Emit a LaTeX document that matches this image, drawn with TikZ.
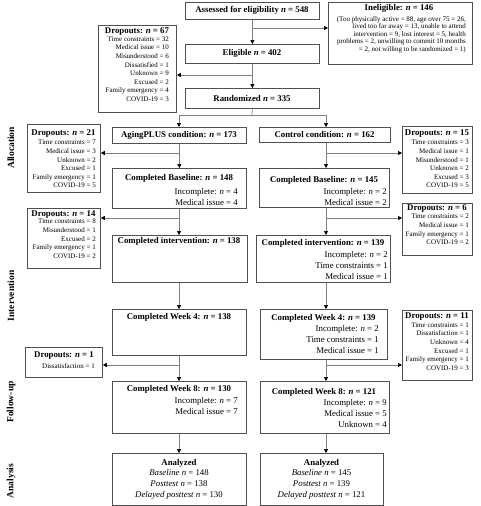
\documentclass[tikz,border=0pt]{standalone}
\usepackage{fontspec}
\setmainfont{Liberation Serif}
\usetikzlibrary{arrows.meta}
\definecolor{boxline}{HTML}{505050}
\definecolor{arrline}{HTML}{808080}
\newcommand{\flowbox}[5]{\node[bx, minimum width={(#4)-(#2)}, minimum height={(#5)-(#3)}] (#1) at (#2,#3) {};}
\begin{document}
\begin{tikzpicture}[x=1pt,y=-1pt,
  bx/.style={draw=boxline, line width=0.8pt, inner sep=0pt, anchor=north west},
  ttl/.style={font=\fontsize{8.8}{10}\selectfont\bfseries, inner sep=0pt},
  det/.style={font=\fontsize{8.8}{10.7}\selectfont, align=right, inner sep=0pt, anchor=north east},
  ana/.style={font=\fontsize{8.8}{10.7}\selectfont, align=center, inner sep=0pt, anchor=north},
  drp/.style={font=\fontsize{7}{8.6}\selectfont, align=right, inner sep=0pt, anchor=north east},
  inl/.style={font=\fontsize{7}{7.5}\selectfont, align=right, inner sep=0pt, anchor=north east},
  arr/.style={draw=arrline, line width=0.7pt, -{Triangle[width=4pt,length=4pt,color=black]}},
  ln/.style={draw=arrline, line width=0.7pt},
  side/.style={font=\fontsize{9.5}{10}\selectfont\bfseries, rotate=90, inner sep=0pt}
]
\fill[white] (0,0) rectangle (480,506);
\useasboundingbox (0,0) rectangle (480,506);

% ---------- boxes ----------
\flowbox{assess}{185}{2}{319}{19}
\flowbox{inelig}{328}{2}{472}{64}
\flowbox{drop67}{98}{25}{176}{112}
\flowbox{elig}{185}{44}{319}{63}
\flowbox{rand}{185}{88}{319}{108}
\flowbox{agcond}{112}{127}{246}{143}
\flowbox{ctcond}{259}{127}{390}{142}
\flowbox{drop21}{27}{124}{100}{192}
\flowbox{drop15}{402}{126}{472}{193}
\flowbox{agbase}{112}{168}{246}{208}
\flowbox{ctbase}{259}{168}{389}{207}
\flowbox{drop14}{27}{208}{100}{268}
\flowbox{drop6}{402}{203}{472}{255}
\flowbox{agint}{112}{235}{247}{282}
\flowbox{ctint}{256}{235}{390}{282}
\flowbox{agwk4}{112}{309}{246}{355}
\flowbox{ctwk4}{260}{309}{387}{359}
\flowbox{drop11}{402}{310}{472}{380}
\flowbox{drop1}{25}{347}{102}{377}
\flowbox{agwk8}{112}{381}{246}{433}
\flowbox{ctwk8}{260}{381}{389}{433}
\flowbox{agana}{112}{453}{246}{505}
\flowbox{ctana}{260}{453}{383}{505}

% ---------- texts ----------
\node[ttl] (tassess) at (252,10.5) {Assessed for eligibility \textit{n} = 548};
\node[ttl] (tinelig) at (399,8.5) {Ineligible: \textit{n} = 146};
\node[inl] (linelig) at (466,16.3) {(Too physically active = 88, age over 75 = 26,\\lived too far away = 13, unable to attend\\intervention = 9, lost interest = 5, health\\problems = 2, unwilling to commit 10 months\\= 2, not willing to be randomized = 1)};
\node[ttl] (telig) at (252,53.5) {Eligible \textit{n} = 402};
\node[ttl] (trand) at (252,98) {Randomized \textit{n} = 335};

\node[ttl] (tdrop67) at (137,31.5) {Dropouts: \textit{n} = 67};
\node[drp] (ldrop67) at (169,36.5) {Time constraints = 32\\Medical issue = 10\\Misunderstood = 6\\Dissatisfied = 1\\Unknown = 9\\Excused = 2\\Family emergency = 4\\COVID-19 = 3};

\node[ttl] (tagcond) at (179,135) {AgingPLUS condition: \textit{n} = 173};
\node[ttl] (tctcond) at (324.5,134.5) {Control condition: \textit{n} = 162};

\node[ttl] (tdrop21) at (63.5,134) {Dropouts: \textit{n} = 21};
\node[drp] (ldrop21) at (96,140) {Time constraints = 7\\Medical issue = 3\\Unknown = 2\\Excused = 1\\Family emergency = 1\\COVID-19 = 5};
\node[ttl] (tdrop15) at (437,134) {Dropouts: \textit{n} = 15};
\node[drp] (ldrop15) at (469,140) {Time constraints = 3\\Medical issue = 1\\Misunderstood = 1\\Unknown = 2\\Excused = 3\\COVID-19 = 5};

\node[ttl] (tagbase) at (179,178.5) {Completed Baseline: \textit{n} = 148};
\node[det] (dagbase) at (238,188) {Incomplete: \textit{n} = 4\\Medical issue = 4};
\node[ttl] (tctbase) at (324,180) {Completed Baseline: \textit{n} = 145};
\node[det] (dctbase) at (387,188) {Incomplete: \textit{n} = 2\\Medical issue = 2};

\node[ttl] (tdrop14) at (63.5,214.3) {Dropouts: \textit{n} = 14};
\node[drp] (ldrop14) at (96,219) {Time constraints = 8\\Misunderstood = 1\\Excused = 2\\Family emergency = 1\\COVID-19 = 2};
\node[ttl] (tdrop6) at (437,208.5) {Dropouts: \textit{n} = 6};
\node[drp] (ldrop6) at (469,214) {Time constraints = 2\\Medical issue = 1\\Family emergency = 1\\COVID-19 = 2};

\node[ttl] (tagint) at (179,241) {Completed intervention: \textit{n} = 138};
\node[ttl] (tctint) at (323,243) {Completed intervention: \textit{n} = 139};
\node[det] (dctint) at (388,251.5) {Incomplete: \textit{n} = 2\\Time constraints = 1\\Medical issue = 1};

\node[ttl] (tagwk4) at (179,317) {Completed Week 4: \textit{n} = 138};
\node[ttl] (tctwk4) at (323.5,318) {Completed Week 4: \textit{n} = 139};
\node[det] (dctwk4) at (379,325.5) {Incomplete: \textit{n} = 2\\Time constraints = 1\\Medical issue = 1};

\node[ttl] (tdrop11) at (437,316.5) {Dropouts: \textit{n} = 11};
\node[drp] (ldrop11) at (469,322.5) {Time constraints = 1\\Dissatisfaction = 1\\Unknown = 4\\Excused = 1\\Family emergency = 1\\COVID-19 = 3};
\node[ttl] (tdrop1) at (64,356) {Dropouts: \textit{n} = 1};
\node[drp] (ldrop1) at (95,363.2) {Dissatisfaction = 1};

\node[ttl] (tagwk8) at (179,389) {Completed Week 8: \textit{n} = 130};
\node[det] (dagwk8) at (238,397.5) {Incomplete: \textit{n} = 7\\Medical issue = 7};
\node[ttl] (tctwk8) at (324,392) {Completed Week 8: \textit{n} = 121};
\node[det] (dctwk8) at (387,399.5) {Incomplete: \textit{n} = 9\\Medical issue = 5\\Unknown = 4};

\node[ttl] (tagana) at (179,463) {Analyzed};
\node[ana] (dagana) at (179,469.5) {\textit{Baseline n} = 148\\\textit{Posttest n} = 138\\\textit{Delayed posttest n} = 130};
\node[ttl] (tctana) at (321.5,463) {Analyzed};
\node[ana] (dctana) at (321.5,469.5) {\textit{Baseline n} = 145\\\textit{Posttest n} = 139\\\textit{Delayed posttest n} = 121};

% ---------- side labels ----------
\node[side] (sAlloc) at (11,148) {Allocation};
\node[side] (sInt) at (11,296) {Intervention};
\node[side] (sFol) at (11,402) {Follow-up};
\node[side] (sAna) at (11,481) {Analysis};

% ---------- connectors ----------
\draw[arr] (assess) -- (elig);
\coordinate (j1) at (252,28);
\draw[arr] (j1) -- (j1 -| inelig.west);
\draw[arr] (elig) -- (rand);
\coordinate (j2) at (252,75);
\draw[arr] (j2) -- (j2 -| drop67.east);
\coordinate (j3) at (252,115);
\coordinate (ja) at (179,115);
\coordinate (jc) at (326,115);
\draw[ln] (rand.south) -- (j3);
\draw[ln] (ja) -- (jc);
\draw[arr] (ja) -- (ja |- agcond.north);
\draw[arr] (jc) -- (jc |- ctcond.north);

% AgingPLUS column
\draw[arr] (agcond) -- (agbase);
\coordinate (ka1) at (179,153);
\draw[arr] (ka1) -- (ka1 -| drop21.east);
\draw[arr] (agbase.south -| ja) -- (agint.north -| ja);
\coordinate (ka2) at (179,218);
\draw[arr] (ka2) -- (ka2 -| drop14.east);
\draw[arr] (agint.south -| ja) -- (agwk4.north -| ja);
\draw[arr] (agwk4.south -| ja) -- (agwk8.north -| ja);
\coordinate (ka3) at (179,365);
\draw[arr] (ka3) -- (ka3 -| drop1.east);
\draw[arr] (agwk8.south -| ja) -- (agana.north -| ja);

% Control column
\draw[arr] (ctcond.south -| jc) -- (ctbase.north -| jc);
\coordinate (kc1) at (326,153);
\draw[arr] (kc1) -- (kc1 -| drop15.west);
\draw[arr] (ctbase.south -| jc) -- (ctint.north -| jc);
\coordinate (kc2) at (326,218);
\draw[arr] (kc2) -- (kc2 -| drop6.west);
\draw[arr] (ctint.south -| jc) -- (ctwk4.north -| jc);
\draw[arr] (ctwk4.south -| jc) -- (ctwk8.north -| jc);
\coordinate (kc3) at (326,365);
\draw[arr] (kc3) -- (kc3 -| drop11.west);
\draw[arr] (ctwk8.south -| jc) -- (ctana.north -| jc);
\end{tikzpicture}
\end{document}
